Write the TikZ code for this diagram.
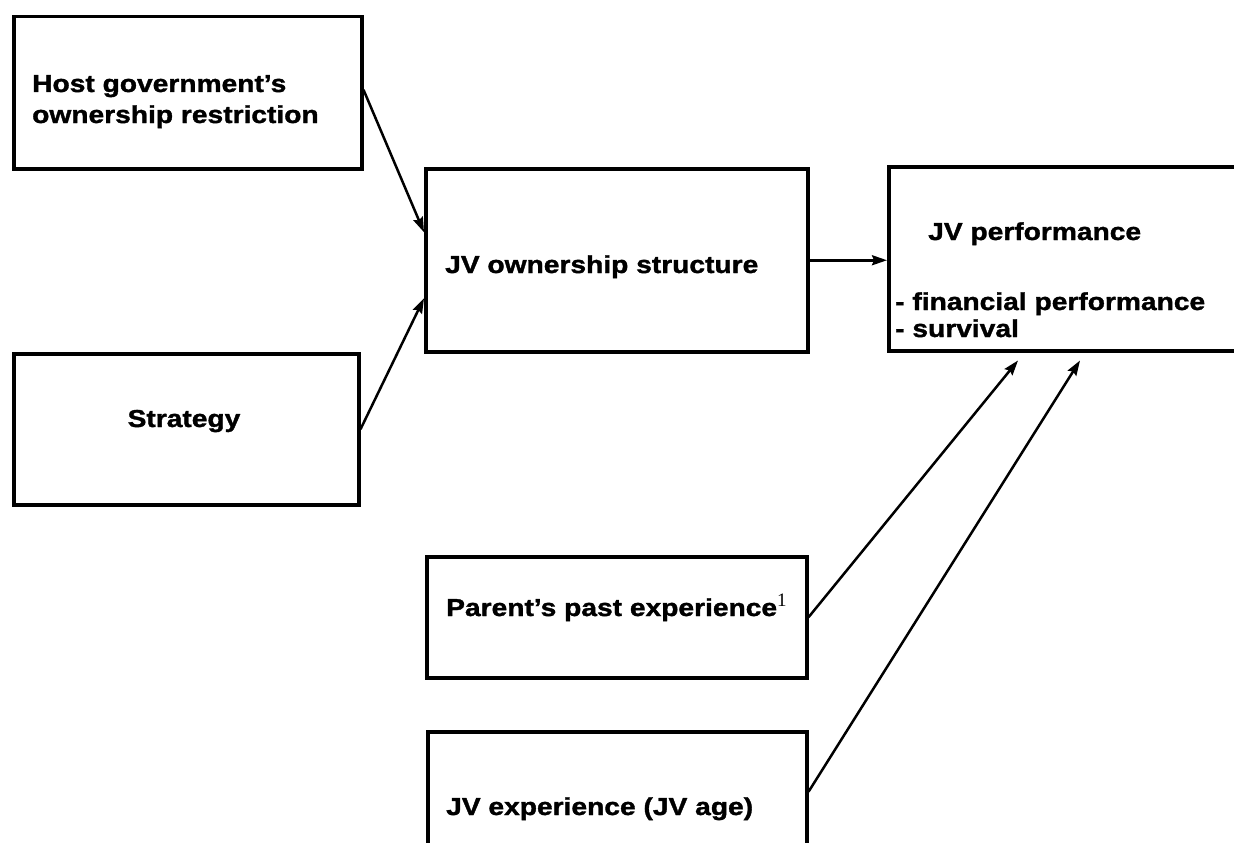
\documentclass[tikz,border=0pt]{standalone}
\usepackage{fontspec}
\newfontfamily\boxfont[FakeStretch=1.15, FakeBold=1.4]{Liberation Sans Bold}
\newfontfamily\notefont{Liberation Serif}
\usetikzlibrary{arrows.meta}

\begin{document}
\begin{tikzpicture}[x=1pt,y=-1pt,
  framebox/.style={draw=black, line width=3.5pt, rectangle, inner sep=0pt, anchor=north west},
  lbl/.style={inner sep=0pt, anchor=base west, font=\boxfont\fontsize{24.5}{31}\selectfont},
  link/.style={line width=2.5pt, -{Stealth[length=15pt,width=10pt,inset=2pt]}}]

  \useasboundingbox (0,0) rectangle (1234,843);
  \clip (0,0) rectangle (1234,843);
  \fill[white] (0,0) rectangle (1234,843);

  % boxes
  \node[framebox, minimum width=348pt, minimum height=152pt] (host) at (12,15) {};
  \node[framebox, minimum width=345pt, minimum height=151pt] (strat) at (12,352) {};
  \node[framebox, minimum width=382pt, minimum height=183pt] (own) at (424,167) {};
  \node[framebox, minimum width=380pt, minimum height=184pt] (perf) at (887,165) {};
  \node[framebox, minimum width=380pt, minimum height=121pt] (parent) at (425,555) {};
  \node[framebox, minimum width=379pt, minimum height=120pt] (jvexp) at (426,730) {};

  % labels
  \node[lbl] (hostA) at (32,92) {Host government’s};
  \node[lbl] (hostB) at (32,123) {ownership restriction};
  \node[lbl, anchor=base] (stratT) at (184,427) {Strategy};
  \node[lbl] (ownT) at (445,273) {JV ownership structure};
  \node[lbl] (perfA) at (928,240) {JV performance};
  \node[lbl] (perfB) at (895,310) {- financial performance};
  \node[lbl] (perfC) at (895,337) {- survival};
  \node[lbl] (parentT) at (446,616) {Parent’s past experience\raisebox{10pt}{\notefont\fontsize{19}{19}\selectfont 1}};
  \node[lbl] (jvexpT) at (446,815) {JV experience (JV age)};

  % arrow end points on the receiving boxes
  \coordinate (ownIn1) at ([yshift=28pt]own.west);
  \coordinate (ownIn2) at ([yshift=-38pt]own.west);
  \coordinate (perfIn1) at ([xshift=131pt,yshift=-8pt]perf.south west);
  \coordinate (perfIn2) at ([xshift=193pt,yshift=-8pt]perf.south west);

  % connectors
  \draw[link] ([yshift=3pt]host.east) -- (ownIn1);
  \draw[link] (strat.east) -- (ownIn2);
  \draw[link] (own.east) -- (perf.west |- own.east);
  \draw[link] (parent.east) -- (perfIn1);
  \draw[link] (jvexp.east) -- (perfIn2);
\end{tikzpicture}
\end{document}
